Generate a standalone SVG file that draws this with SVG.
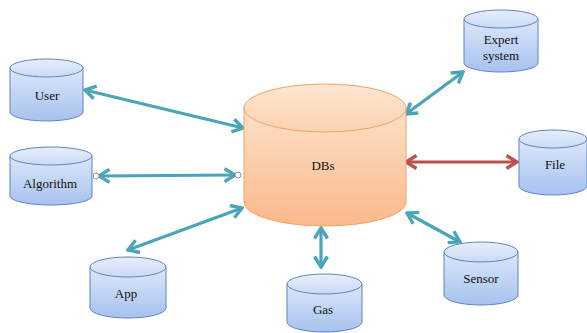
<svg xmlns="http://www.w3.org/2000/svg" width="587" height="333" viewBox="0 0 587 333">
  <defs>
    <linearGradient id="blueBody" x1="0" y1="0" x2="0" y2="1">
      <stop offset="0" stop-color="#dce7fa"/>
      <stop offset="1" stop-color="#a7c2ef"/>
    </linearGradient>
    <linearGradient id="blueTop" x1="0" y1="0" x2="0" y2="1">
      <stop offset="0" stop-color="#e6eefc"/>
      <stop offset="1" stop-color="#c9daf6"/>
    </linearGradient>
    <linearGradient id="orangeBody" x1="0" y1="0" x2="0" y2="1">
      <stop offset="0" stop-color="#fde0c8"/>
      <stop offset="1" stop-color="#fab98a"/>
    </linearGradient>
    <linearGradient id="orangeTop" x1="0" y1="0" x2="0" y2="1">
      <stop offset="0" stop-color="#fee6d2"/>
      <stop offset="1" stop-color="#fcd2b0"/>
    </linearGradient>
    <marker id="tealHead" viewBox="0 0 16 16" refX="14" refY="8" markerWidth="16" markerHeight="16" markerUnits="userSpaceOnUse" orient="auto-start-reverse">
      <path d="M3.5,1.5 L14,8 L3.5,14.5" fill="none" stroke="#4aa5b8" stroke-width="3.4" stroke-linejoin="miter"/>
    </marker>
    <marker id="redHead" viewBox="0 0 16 16" refX="14" refY="8" markerWidth="16" markerHeight="16" markerUnits="userSpaceOnUse" orient="auto-start-reverse">
      <path d="M3.5,1.5 L14,8 L3.5,14.5" fill="none" stroke="#bf4f4c" stroke-width="3.4" stroke-linejoin="miter"/>
    </marker>
  </defs>
  <style>
    .body { fill: url(#blueBody); stroke: #5f84c4; stroke-width: 1; }
    .top { fill: url(#blueTop); stroke: #5f84c4; stroke-width: 1; }
    .obody { fill: url(#orangeBody); stroke: #f0a468; stroke-width: 1; }
    .otop { fill: url(#orangeTop); stroke: #f0a468; stroke-width: 1; }
    text { font-family: 'Liberation Serif', 'Times New Roman', serif; font-size: 13px; fill: #111; text-anchor: middle; }
    .teal { stroke: #4aa5b8; stroke-width: 3.2; fill: none; marker-start: url(#tealHead); marker-end: url(#tealHead); }
    .red { stroke: #bf4f4c; stroke-width: 3.2; fill: none; marker-start: url(#redHead); marker-end: url(#redHead); }
    .dot { fill: #fff; stroke: #777; stroke-width: 0.8; }
  </style>

  <g id="connectors">
    <line class="teal" x1="85" y1="90" x2="243" y2="128"/>
    <line class="teal" x1="99" y1="176" x2="235" y2="175"/>
    <line class="teal" x1="128" y1="250" x2="242" y2="208"/>
    <line class="teal" x1="321" y1="228" x2="321" y2="267"/>
    <line class="teal" x1="407" y1="213" x2="460" y2="242"/>
    <line class="teal" x1="406" y1="114" x2="463" y2="72"/>
    <line class="red" x1="406" y1="162" x2="517" y2="162"/>
    <circle class="dot" cx="96" cy="176" r="3"/>
    <circle class="dot" cx="238" cy="175" r="3"/>
  </g>

  <g id="dbs">
    <path class="obody" d="M244,108 L244,202 A81,24 0 0 0 406,202 L406,108 Z"/>
    <ellipse class="otop" cx="325" cy="108" rx="81" ry="24"/>
    <text x="323" y="170" font-family="Liberation Serif, serif">DBs</text>
  </g>

  <g id="user">
    <path class="body" d="M10,68 L10,112 A36.5,9 0 0 0 83,112 L83,68 Z"/>
    <ellipse class="top" cx="46.5" cy="68" rx="36.5" ry="9"/>
    <text x="47" y="100">User</text>
  </g>

  <g id="algorithm">
    <path class="body" d="M10,156 L10,196 A41,9 0 0 0 92,196 L92,156 Z"/>
    <ellipse class="top" cx="51" cy="156" rx="41" ry="9"/>
    <text x="50" y="188">Algorithm</text>
  </g>

  <g id="expert">
    <path class="body" d="M464,19 L464,63 A37,9 0 0 0 538,63 L538,19 Z"/>
    <ellipse class="top" cx="501" cy="19" rx="37" ry="9"/>
    <text x="501" y="44">Expert</text>
    <text x="501" y="60">system</text>
  </g>

  <g id="file">
    <path class="body" d="M519,139 L519,186 A34,9 0 0 0 587,186 L587,139 Z"/>
    <ellipse class="top" cx="553" cy="139" rx="34" ry="9"/>
    <text x="555" y="169">File</text>
  </g>

  <g id="app">
    <path class="body" d="M90,267 L90,308 A38,10 0 0 0 166,308 L166,267 Z"/>
    <ellipse class="top" cx="128" cy="267" rx="38" ry="10"/>
    <text x="126" y="298">App</text>
  </g>

  <g id="gas">
    <path class="body" d="M287,284 L287,322 A37.5,10 0 0 0 362,322 L362,284 Z"/>
    <ellipse class="top" cx="324.5" cy="284" rx="37.5" ry="10"/>
    <text x="323" y="314">Gas</text>
  </g>

  <g id="sensor">
    <path class="body" d="M444,252 L444,295 A37,10 0 0 0 518,295 L518,252 Z"/>
    <ellipse class="top" cx="481" cy="252" rx="37" ry="10"/>
    <text x="481" y="283">Sensor</text>
  </g>
</svg>
